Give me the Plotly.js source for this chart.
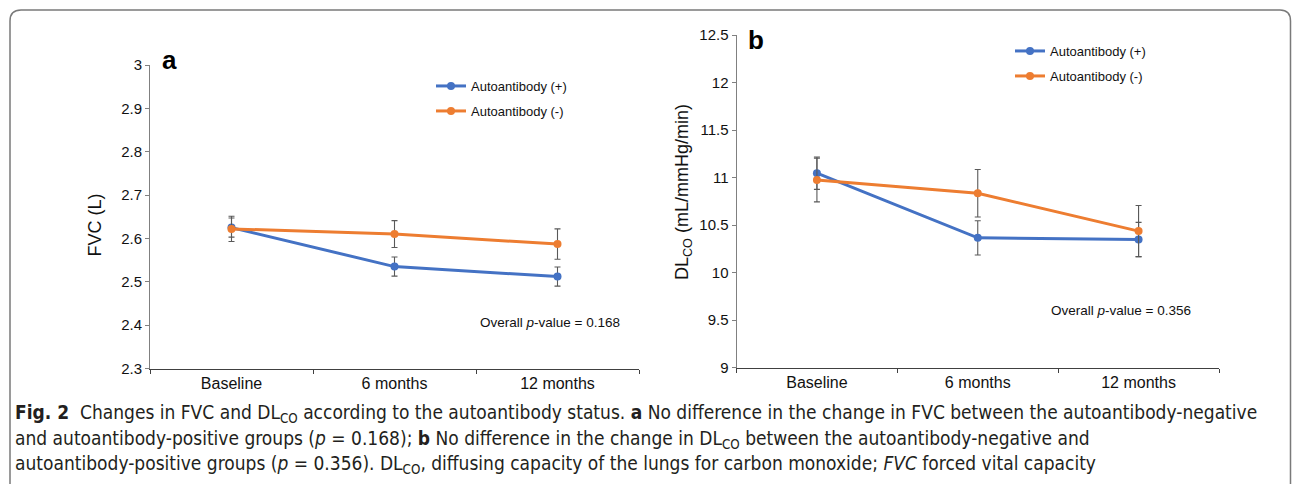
<!DOCTYPE html>
<html>
<head>
<meta charset="utf-8">
<script src="https://cdn.plot.ly/plotly-3.0.1.min.js"></script>
<style>html,body{margin:0;padding:0;background:#fff;}#chart{width:1292px;height:484px;}</style>
</head>
<body>
<div id="chart"></div>
<script>
// ---- data ----
const categories = ['Baseline', '6 months', '12 months'];
const seriesNames = ['Autoantibody (+)', 'Autoantibody (-)'];
const fvcPos = [2.625, 2.535, 2.512];
const fvcPosErr = [0.022, 0.022, 0.022];
const fvcNeg = [2.622, 2.610, 2.587];
const fvcNegErr = [0.029, 0.031, 0.035];
const dlcoPos = [11.046, 10.366, 10.349];
const dlcoPosErr = [0.17, 0.18, 0.18];
const dlcoNeg = [10.975, 10.835, 10.437];
const dlcoNegErr = [0.23, 0.25, 0.27];
const pValueA = '0.168';
const pValueB = '0.356';

// ---- layout helpers ----
const W = 1292, H = 484;
const px = x => x / W;
const py = y => 1 - y / H;
const BLUE = '#4472C4', ORANGE = '#ED7D31', ERR = '#595959';
const FONT = "'Liberation Sans', Arial, sans-serif";
const CAPFONT = "'DejaVu Sans Condensed', 'Liberation Sans Narrow', sans-serif";

function trace(y, err, color, name, xa, ya, leg) {
  return {
    x: categories, y: y, name: name, type: 'scatter', mode: 'lines+markers',
    xaxis: xa, yaxis: ya, legend: leg,
    line: {color: color, width: 3},
    marker: {color: color, size: 8},
    error_y: {type: 'data', array: err, visible: true, color: ERR, thickness: 1.1, width: 3},
    hoverinfo: 'x+y'
  };
}

const data = [
  trace(fvcPos, fvcPosErr, BLUE, seriesNames[0], 'x', 'y', 'legend'),
  trace(fvcNeg, fvcNegErr, ORANGE, seriesNames[1], 'x', 'y', 'legend2'),
  trace(dlcoPos, dlcoPosErr, BLUE, seriesNames[0], 'x2', 'y2', 'legend3'),
  trace(dlcoNeg, dlcoNegErr, ORANGE, seriesNames[1], 'x2', 'y2', 'legend4')
];

function xax(domain, anchor) {
  return {
    domain: domain, anchor: anchor, type: 'category', range: [-0.5, 2.5],
    tickson: 'boundaries', ticks: 'outside', ticklen: 4, tickcolor: '#404040',
    showline: true, linecolor: '#404040', linewidth: 1, showgrid: false, zeroline: false,
    tickfont: {family: FONT, size: 16, color: '#111'}, fixedrange: true
  };
}
function yax(domain, anchor, range, dtick) {
  return {
    domain: domain, anchor: anchor, range: range, dtick: dtick, tick0: range[0],
    ticks: 'outside', ticklen: 4, tickcolor: '#808080',
    showline: true, linecolor: '#808080', linewidth: 1, showgrid: false, zeroline: false,
    tickfont: {family: FONT, size: 15, color: '#111'}, fixedrange: true
  };
}

function legendAt(x, y) {
  return {x: px(x), xanchor: 'left', y: py(y), yanchor: 'middle', bgcolor: 'rgba(0,0,0,0)',
          borderwidth: 0, font: {family: FONT, size: 13, color: '#111'}};
}

function ann(text, x, y, opts) {
  return Object.assign({text: text, xref: 'paper', yref: 'paper', x: px(x), y: py(y),
    showarrow: false, xanchor: 'center', yanchor: 'middle',
    font: {family: FONT, size: 13.5, color: '#111'}}, opts || {});
}

const capFont = {family: CAPFONT, size: 19, color: '#231f20'};
const annotations = [
  ann('<b>a</b>', 160, 60, {xanchor: 'left', font: {family: FONT, size: 26, color: '#000'}}),
  ann('<b>b</b>', 746, 40, {xanchor: 'left', font: {family: FONT, size: 26, color: '#000'}}),
  ann('FVC (L)', 95, 225.5, {textangle: -90, font: {family: FONT, size: 18, color: '#111'}}),
  ann('DL<sub>CO</sub> (mL/mmHg/min)', 683, 192, {textangle: -90, font: {family: FONT, size: 18, color: '#111'}}),
  ann('Overall <i>p</i>-value = ' + pValueA, 549.5, 322),
  ann('Overall <i>p</i>-value = ' + pValueB, 1120.5, 310),
  ann('<b>Fig. 2</b>  Changes in FVC and DL<sub>CO</sub> according to the autoantibody status. <b>a</b> No difference in the change in FVC between the autoantibody-negative',
      13, 413, {xanchor: 'left', align: 'left', font: capFont}),
  ann('and autoantibody-positive groups (<i>p</i> = 0.168); <b>b</b> No difference in the change in DL<sub>CO</sub> between the autoantibody-negative and',
      13, 439, {xanchor: 'left', align: 'left', font: capFont}),
  ann('autoantibody-positive groups (<i>p</i> = 0.356). DL<sub>CO</sub>, diffusing capacity of the lungs for carbon monoxide; <i>FVC</i> forced vital capacity',
      13, 464, {xanchor: 'left', align: 'left', font: capFont})
];

const cardPath = `M ${px(10)},${py(484)} L ${px(10)},${py(21)} Q ${px(10)},${py(10)} ${px(21)},${py(10)} ` +
                 `L ${px(1280)},${py(10)} Q ${px(1290.5)},${py(10)} ${px(1290.5)},${py(21)} L ${px(1290.5)},${py(484)}`;

const layout = {
  width: W, height: H, margin: {l: 0, r: 0, t: 0, b: 0},
  paper_bgcolor: '#fff', plot_bgcolor: '#fff', showlegend: true,
  font: {family: FONT, color: '#111'},
  xaxis: xax([px(150), px(639)], 'y'),
  yaxis: yax([py(368.5), py(65)], 'x', [2.3, 3], 0.1),
  xaxis2: xax([px(736.5), px(1219)], 'y2'),
  yaxis2: yax([py(367.7), py(35)], 'x2', [9, 12.5], 0.5),
  legend: legendAt(431, 86),
  legend2: legendAt(431, 111),
  legend3: legendAt(1010, 51),
  legend4: legendAt(1010, 76),
  annotations: annotations,
  shapes: [{type: 'path', xref: 'paper', yref: 'paper', path: cardPath,
            line: {color: '#7a7a7a', width: 1.5}, fillcolor: 'rgba(0,0,0,0)', layer: 'below'}]
};

Plotly.newPlot('chart', data, layout, {displayModeBar: false, staticPlot: true});
</script>
</body>
</html>
